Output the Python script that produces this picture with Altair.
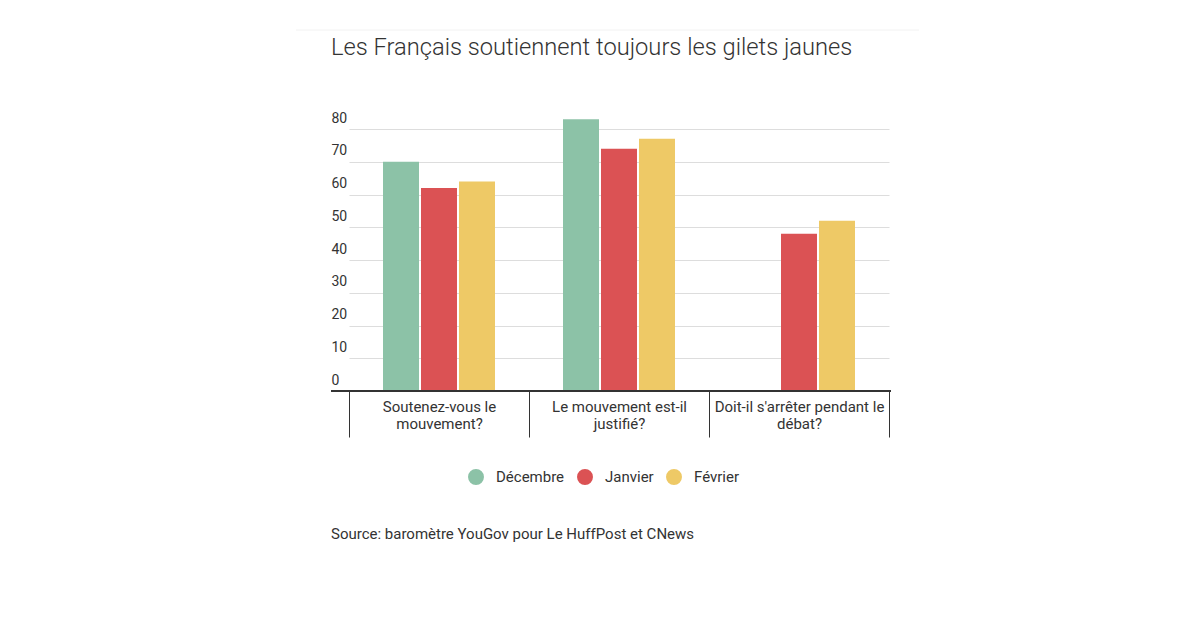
import altair as alt
import pandas as pd

title = "Les Français soutiennent toujours les gilets jaunes"
source = "Source: baromètre YouGov pour Le HuffPost et CNews"
questions = ["Soutenez-vous le mouvement?", "Le mouvement est-il justifié?", "Doit-il s'arrêter pendant le débat?"]
months = ["Décembre", "Janvier", "Février"]
colors = ["#8CC2A7", "#DB5254", "#EEC966"]
decembre = [70, 83, None]
janvier = [62, 74, 48]
fevrier = [64, 77, 52]
y_ticks = [0, 10, 20, 30, 40, 50, 60, 70, 80]

rows = []
for i, q in enumerate(questions):
    for m, vals in zip(months, [decembre, janvier, fevrier]):
        if vals[i] is not None:
            rows.append({"question": q, "mois": m, "valeur": vals[i]})
df = pd.DataFrame(rows)

FONT = "Roboto"
W, H = 558, 262

y_axis = alt.Axis(values=y_ticks, domain=False, ticks=False, title=None,
                  labelAlign="left", labelBaseline="bottom", labelPadding=0, labelOffset=-4,
                  labelOverlap=False,
                  labelFont=FONT, labelFontSize=14, labelColor="#333333",
                  grid=True, gridColor="#DDDDDD", gridWidth=1)
y_scale = alt.Scale(domain=[0, 80], nice=False)

bars = alt.Chart(df).mark_bar().encode(
    x=alt.X("question:N", sort=questions, title=None,
            scale=alt.Scale(range=[18, 558], paddingInner=0, paddingOuter=0),
            axis=alt.Axis(domain=False, ticks=True, tickBand="extent", tickSize=46,
                          tickColor="#333333", tickWidth=1, labelAngle=0,
                          labelFont=FONT, labelFontSize=15, labelColor="#333333",
                          labelPadding=-38, labelBaseline="top", labelLineHeight=17,
                          labelExpr="[slice(datum.label, 0, lastindexof(datum.label, ' ')), slice(datum.label, lastindexof(datum.label, ' ') + 1)]",
                          grid=False)),
    xOffset=alt.XOffset("mois:N", sort=months,
                        scale=alt.Scale(domain=months, paddingInner=0.053, paddingOuter=0.895)),
    y=alt.Y("valeur:Q", title=None, scale=y_scale, axis=y_axis),
    color=alt.Color("mois:N", sort=months,
                    scale=alt.Scale(domain=months, range=colors),
                    legend=alt.Legend(title=None, orient="none", direction="horizontal",
                                      legendX=137, legendY=340, symbolType="circle",
                                      symbolSize=254, symbolStrokeWidth=0, symbolOpacity=1,
                                      labelFont=FONT, labelFontSize=15, labelColor="#333333",
                                      labelOffset=12, columnPadding=12, padding=0)),
)

zero = alt.Chart(pd.DataFrame({"valeur": [0]})).mark_rule(color="#333333", strokeWidth=2).encode(
    y=alt.Y("valeur:Q", title=None, scale=y_scale, axis=y_axis), x=alt.value(0), x2=alt.value(W + 2)
)

src = alt.Chart(pd.DataFrame({"t": [source]})).mark_text(
    align="left", baseline="middle", font=FONT, fontSize=15, color="#333333"
).encode(x=alt.value(0), y=alt.value(405), text="t:N")

topline = alt.Chart(pd.DataFrame({"t": [0]})).mark_rule(color="#F2F2F2", strokeWidth=1).encode(
    x=alt.value(-35), x2=alt.value(594), y=alt.value(-99)
)

chart = alt.layer(topline, bars, zero, src).properties(
    width=W, height=H,
    title=alt.TitleParams(title, anchor="start", font=FONT, fontSize=23.7, fontWeight=300,
                          color="#333333", offset=-30, frame="group"),
    autosize=alt.AutoSizeParams(type="none"),
    padding={"left": 323, "top": 121, "right": 30, "bottom": 200},
).configure(background="white").configure_view(stroke=None)

chart.save("out.html", embed_options={"renderer": "svg", "actions": False})
